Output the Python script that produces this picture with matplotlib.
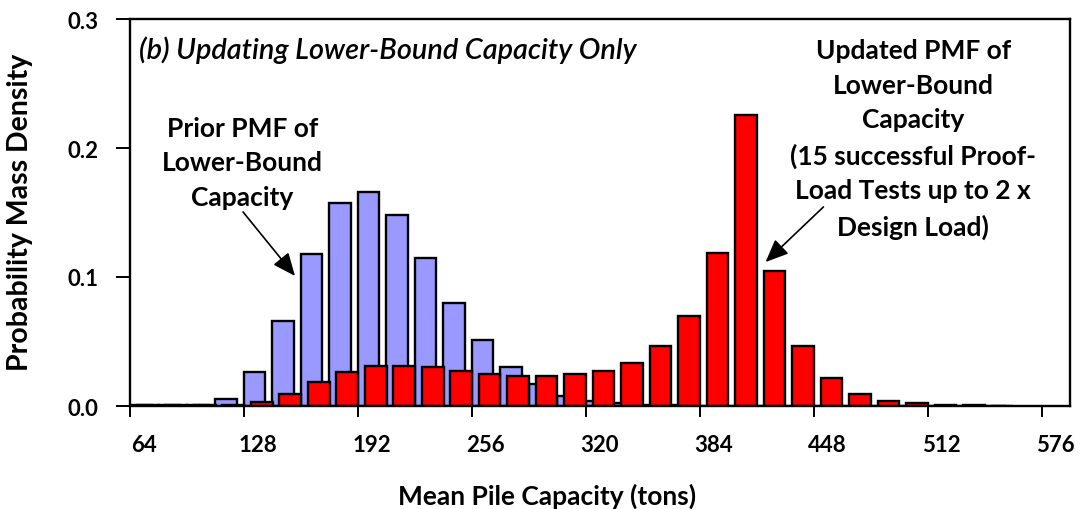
import numpy as np
import matplotlib
matplotlib.use("Agg")
import matplotlib.pyplot as plt
import matplotlib.transforms as mtransforms

plt.rcParams["font.family"] = ["Lato", "DejaVu Sans"]

# ---- DATA ---- #
# bin centres (tons), 16-ton bins
bins = [72, 88, 104, 120, 136, 152, 168, 184, 200, 216, 232, 248, 264, 280,
        296, 312, 328, 344, 360, 376, 392, 408, 424, 440, 456, 472, 488, 504,
        520, 536, 552]

prior_pmf = [0.001, 0.0005, 0.0005, 0.0055, 0.026, 0.066, 0.118, 0.157, 0.166,
             0.148, 0.115, 0.080, 0.051, 0.030, 0.017, 0.008, 0.004, 0.002,
             0.001, 0.0005, 0, 0, 0, 0, 0, 0, 0, 0, 0, 0, 0]

updated_pmf = [0.001, 0.0005, 0.0005, 0.0005, 0.003, 0.0095, 0.0185, 0.026,
               0.031, 0.031, 0.030, 0.0275, 0.025, 0.0235, 0.0235, 0.0245,
               0.0275, 0.0335, 0.0465, 0.070, 0.1185, 0.2255, 0.1045, 0.0465,
               0.0215, 0.0095, 0.0036, 0.002, 0.0008, 0.0005, 0.0003]

xticks = [64, 128, 192, 256, 320, 384, 448, 512, 576]
yticks = [0.0, 0.1, 0.2, 0.3]

# ---- PLOT ---- #
W, H = 1083, 510
fig = plt.figure(figsize=(W / 100, H / 100), dpi=100)
ax = fig.add_axes([130 / W, 1 - 407 / H, 940 / W, 387 / H])

x = np.array(bins, dtype=float)
ax.bar(x - 2, prior_pmf, width=12.2, color="#9999FF", edgecolor="black",
       linewidth=1.7, zorder=2)
ax.bar(x + 2, updated_pmf, width=12.2, color="#FF0000", edgecolor="black",
       linewidth=1.7, zorder=3)

ax.set_xlim(64, 592)
ax.set_ylim(0, 0.3)
ax.set_xticks(xticks)
ax.set_xticklabels([str(t) for t in xticks])
ax.set_yticks(yticks)
ax.set_yticklabels([f"{t:.1f}" for t in yticks])

for side in ["left", "bottom", "top", "right"]:
    ax.spines[side].set_linewidth(1.7)
    ax.spines[side].set_zorder(5)

ax.tick_params(axis="x", direction="out", length=8, width=1.4, pad=12,
               labelsize=16)
ax.tick_params(axis="y", direction="out", length=10, width=1.4, pad=13,
               labelsize=16)
for lab in ax.get_xticklabels() + ax.get_yticklabels():
    lab.set_fontweight("bold")

# x labels sit a little right of their ticks
shift = mtransforms.ScaledTranslation(14 / 100, 0, fig.dpi_scale_trans)
for lab in ax.get_xticklabels():
    lab.set_transform(lab.get_transform() + shift)

fig.text(547 / W, 1 - 496 / H, "Mean Pile Capacity (tons)", fontsize=19,
         fontweight="bold", ha="center", va="center")
fig.text(20 / W, 1 - 212 / H, "Probability Mass Density", fontsize=20.5,
         fontweight="bold", ha="center", va="center", rotation=90)

# ---- ANNOTATIONS ---- #
ax.text(69, 0.2767, "(b) Updating Lower-Bound Capacity Only", fontsize=20.8,
        style="italic", fontweight="semibold", ha="left", va="center")

arrow = dict(arrowstyle="-|>,head_length=1.4,head_width=0.6",
             color="black", lw=1.2, shrinkA=0, shrinkB=0)

ax.text(127, 0.189, "Prior PMF of\nLower-Bound\nCapacity", fontsize=19,
        fontweight="bold", ha="center", va="center", linespacing=1.53)
ax.annotate("", xy=(156.7, 0.1008), xytext=(127.5, 0.1504),
            arrowprops=arrow)

ax.text(504, 0.2074,
        "Updated PMF of\nLower-Bound\nCapacity\n(15 successful Proof-\n"
        "Load Tests up to 2 x\nDesign Load)",
        fontsize=19, fontweight="bold", ha="center", va="center",
        linespacing=1.53)
ax.annotate("", xy=(421, 0.1116), xytext=(453.5, 0.1543),
            arrowprops=arrow)

plt.savefig("out.png", dpi=100)
